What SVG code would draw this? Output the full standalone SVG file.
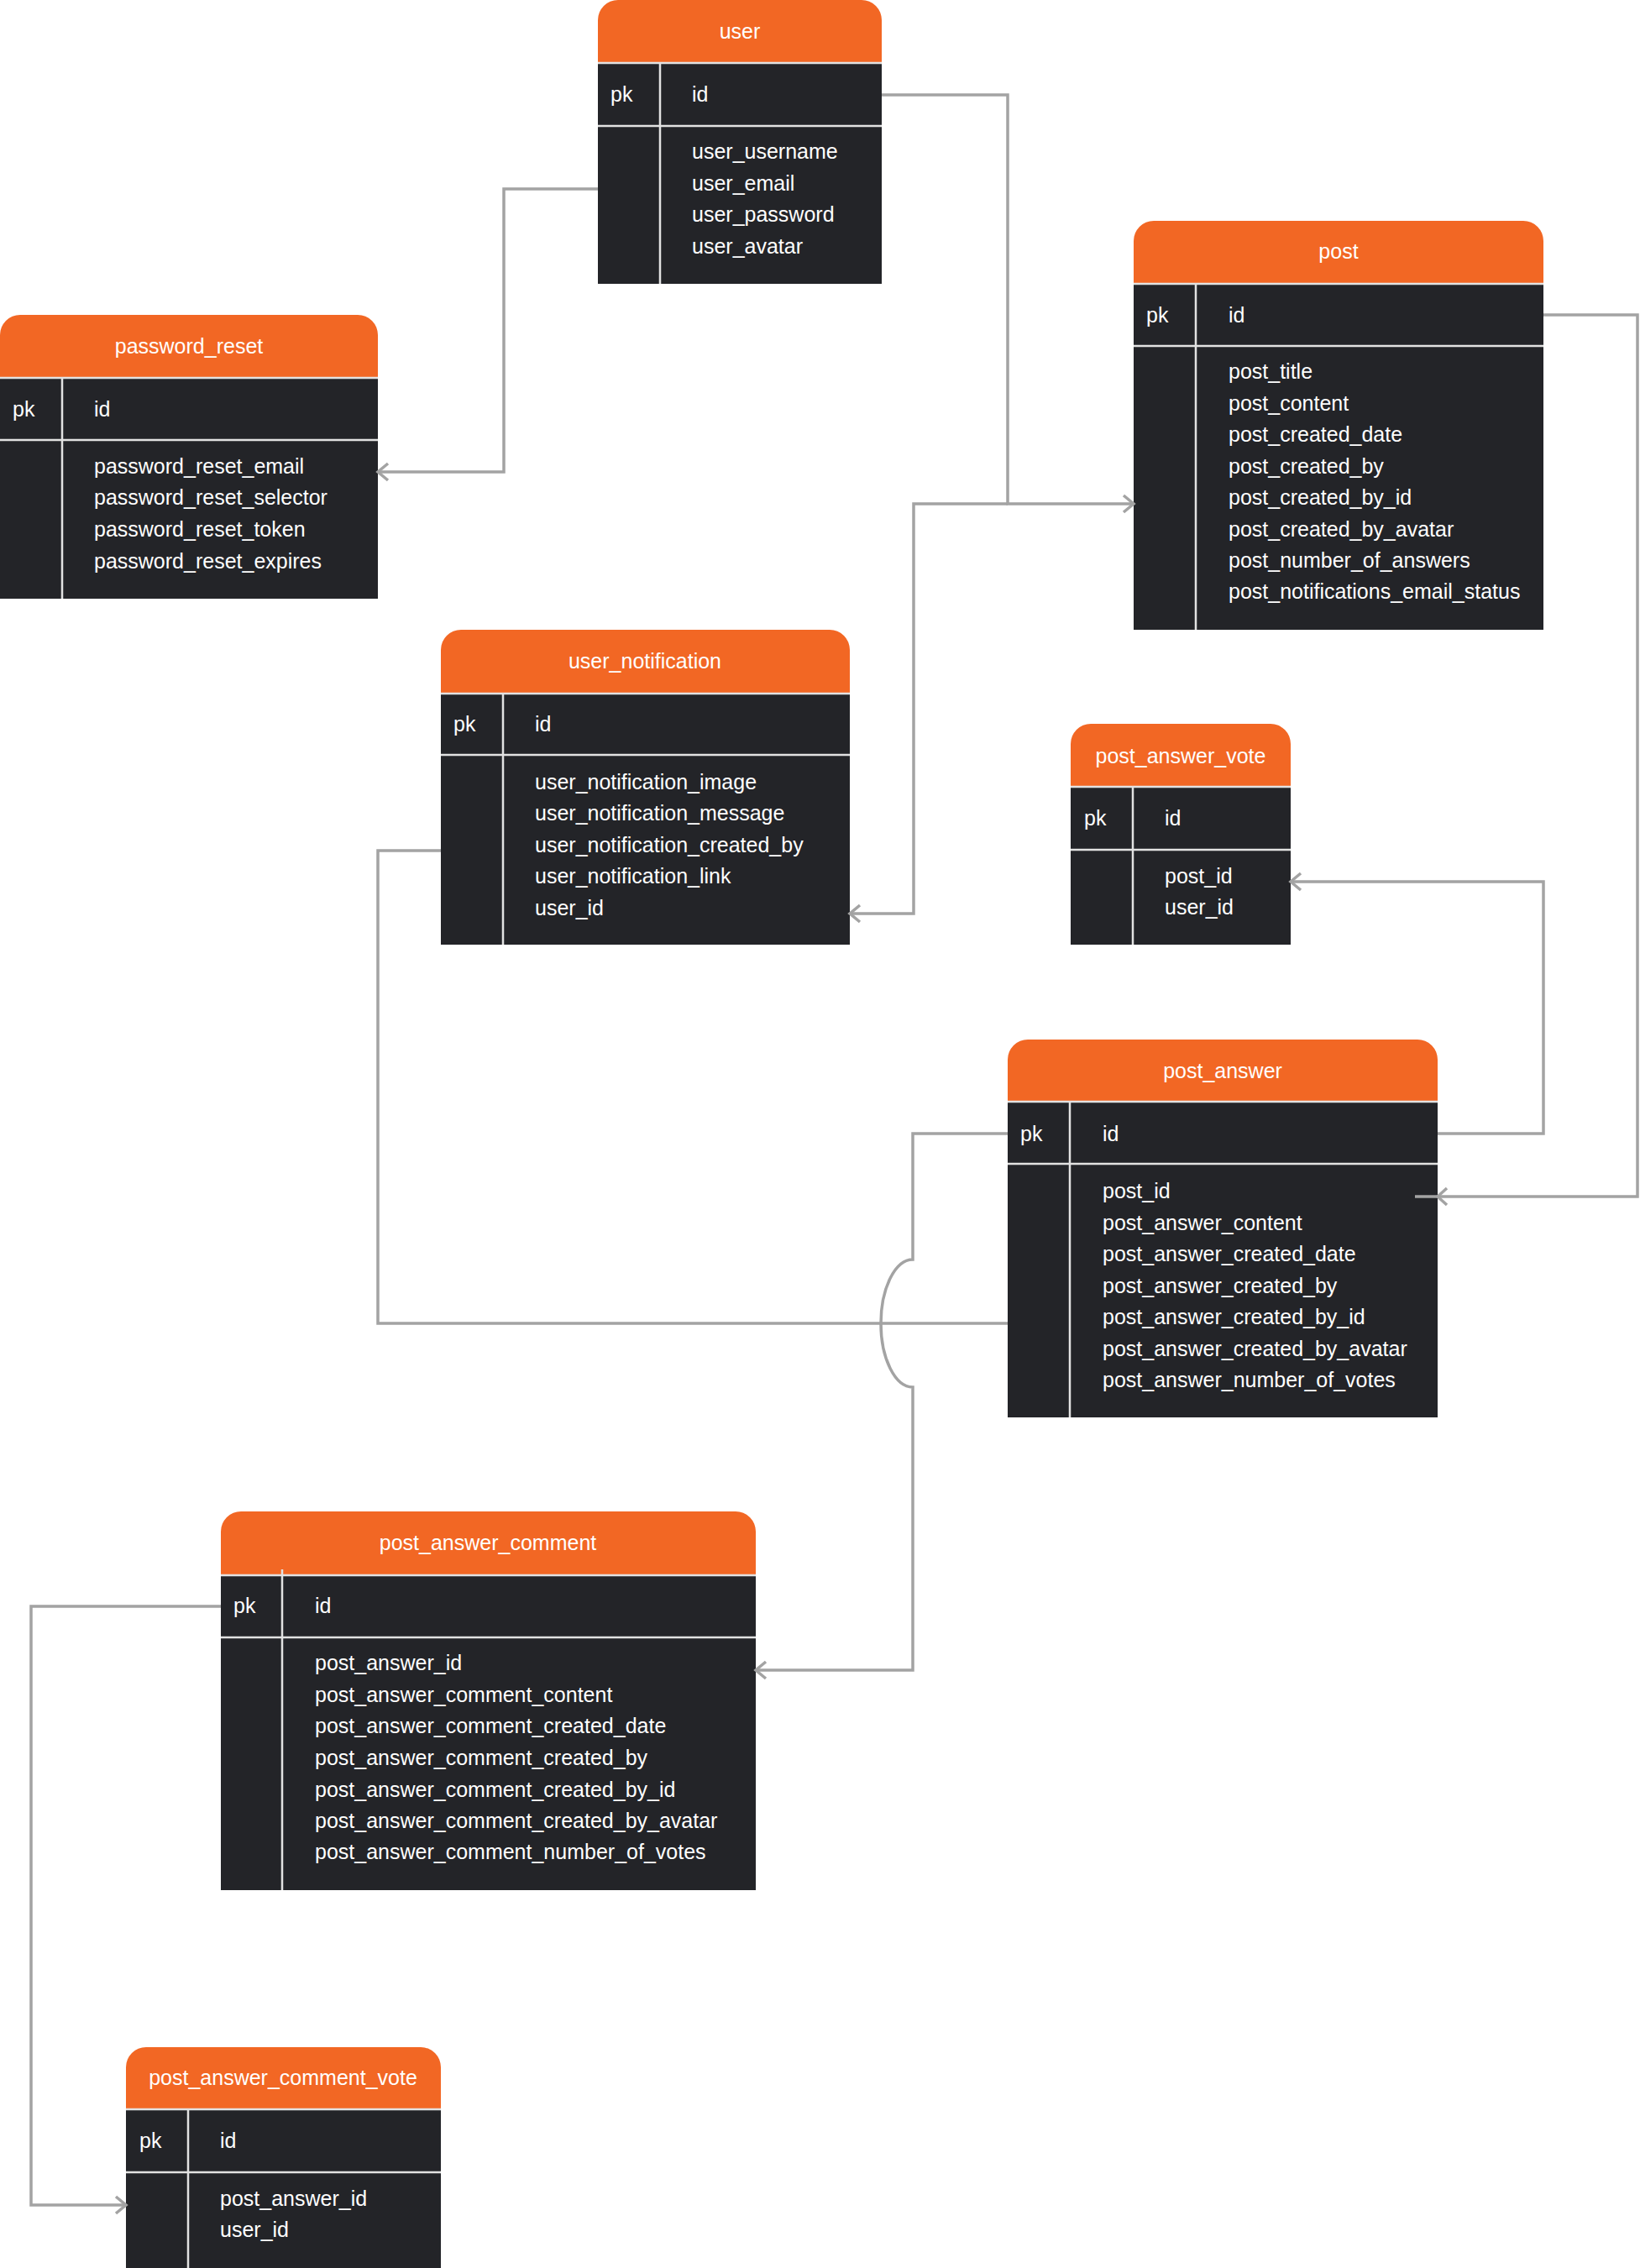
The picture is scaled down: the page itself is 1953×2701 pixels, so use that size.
<svg xmlns="http://www.w3.org/2000/svg" width="1953" height="2701" viewBox="0 0 1953 2701">
<style>
.body{fill:#232428}
.head{fill:#F26724}
.sep{stroke:#E2E2E2;stroke-width:2.5}
.div{stroke:#E2E2E2;stroke-width:2.5}
text{font-family:"Liberation Sans",Arial,Helvetica,sans-serif;font-size:25px;fill:#FFFFFF;dominant-baseline:central}
.title{text-anchor:middle}
.conn{fill:none;stroke:#A3A3A3;stroke-width:3.5;stroke-linejoin:miter}
</style>
<defs>
<marker id="arr" markerUnits="userSpaceOnUse" markerWidth="30" markerHeight="30" viewBox="-15 -15 30 30" refX="0" refY="0" orient="auto">
<path d="M-12,-10 L0,0 L-12,10" fill="none" stroke="#A3A3A3" stroke-width="3.5"/>
</marker>
</defs>
<rect width="1953" height="2701" fill="#FFFFFF"/>

<g id="user">
<rect class="body" x="712" y="74" width="338" height="264"/>
<path class="head" d="M712,75 V24 A24,24 0 0 1 736,0 H1026 A24,24 0 0 1 1050,24 V75 Z"/>
<line class="sep" x1="712" y1="75" x2="1050" y2="75"/>
<line class="sep" x1="712" y1="150" x2="1050" y2="150"/>
<line class="div" x1="786" y1="75" x2="786" y2="338"/>
<text class="title" x="881" y="37">user</text>
<text x="727" y="112">pk</text>
<text x="824" y="112">id</text>
<text x="824" y="180">user_username</text>
<text x="824" y="218">user_email</text>
<text x="824" y="255">user_password</text>
<text x="824" y="293">user_avatar</text>
</g>

<g id="password_reset">
<rect class="body" x="0" y="449" width="450" height="264"/>
<path class="head" d="M0,450 V399 A24,24 0 0 1 24,375 H426 A24,24 0 0 1 450,399 V450 Z"/>
<line class="sep" x1="0" y1="450" x2="450" y2="450"/>
<line class="sep" x1="0" y1="524" x2="450" y2="524"/>
<line class="div" x1="74" y1="450" x2="74" y2="713"/>
<text class="title" x="225" y="412">password_reset</text>
<text x="15" y="487">pk</text>
<text x="112" y="487">id</text>
<text x="112" y="555">password_reset_email</text>
<text x="112" y="592">password_reset_selector</text>
<text x="112" y="630">password_reset_token</text>
<text x="112" y="668">password_reset_expires</text>
</g>

<g id="post">
<rect class="body" x="1350" y="337" width="488" height="413"/>
<path class="head" d="M1350,338 V287 A24,24 0 0 1 1374,263 H1814 A24,24 0 0 1 1838,287 V338 Z"/>
<line class="sep" x1="1350" y1="338" x2="1838" y2="338"/>
<line class="sep" x1="1350" y1="412" x2="1838" y2="412"/>
<line class="div" x1="1424" y1="338" x2="1424" y2="750"/>
<text class="title" x="1594" y="299">post</text>
<text x="1365" y="375">pk</text>
<text x="1463" y="375">id</text>
<text x="1463" y="442">post_title</text>
<text x="1463" y="480">post_content</text>
<text x="1463" y="517">post_created_date</text>
<text x="1463" y="555">post_created_by</text>
<text x="1463" y="592">post_created_by_id</text>
<text x="1463" y="630">post_created_by_avatar</text>
<text x="1463" y="667">post_number_of_answers</text>
<text x="1463" y="704">post_notifications_email_status</text>
</g>

<g id="user_notification">
<rect class="body" x="525" y="825" width="487" height="300"/>
<path class="head" d="M525,826 V774 A24,24 0 0 1 549,750 H988 A24,24 0 0 1 1012,774 V826 Z"/>
<line class="sep" x1="525" y1="826" x2="1012" y2="826"/>
<line class="sep" x1="525" y1="899" x2="1012" y2="899"/>
<line class="div" x1="599" y1="826" x2="599" y2="1125"/>
<text class="title" x="768" y="787">user_notification</text>
<text x="540" y="862">pk</text>
<text x="637" y="862">id</text>
<text x="637" y="931">user_notification_image</text>
<text x="637" y="968">user_notification_message</text>
<text x="637" y="1006">user_notification_created_by</text>
<text x="637" y="1043">user_notification_link</text>
<text x="637" y="1081">user_id</text>
</g>

<g id="post_answer_vote">
<rect class="body" x="1275" y="936" width="262" height="189"/>
<path class="head" d="M1275,937 V886 A24,24 0 0 1 1299,862 H1513 A24,24 0 0 1 1537,886 V937 Z"/>
<line class="sep" x1="1275" y1="937" x2="1537" y2="937"/>
<line class="sep" x1="1275" y1="1012" x2="1537" y2="1012"/>
<line class="div" x1="1349" y1="937" x2="1349" y2="1125"/>
<text class="title" x="1406" y="900">post_answer_vote</text>
<text x="1291" y="974">pk</text>
<text x="1387" y="974">id</text>
<text x="1387" y="1043">post_id</text>
<text x="1387" y="1080">user_id</text>
</g>

<g id="post_answer">
<rect class="body" x="1200" y="1311" width="512" height="377"/>
<path class="head" d="M1200,1312 V1262 A24,24 0 0 1 1224,1238 H1688 A24,24 0 0 1 1712,1262 V1312 Z"/>
<line class="sep" x1="1200" y1="1312" x2="1712" y2="1312"/>
<line class="sep" x1="1200" y1="1386" x2="1712" y2="1386"/>
<line class="div" x1="1274" y1="1312" x2="1274" y2="1688"/>
<text class="title" x="1456" y="1275">post_answer</text>
<text x="1215" y="1350">pk</text>
<text x="1313" y="1350">id</text>
<text x="1313" y="1418">post_id</text>
<text x="1313" y="1456">post_answer_content</text>
<text x="1313" y="1493">post_answer_created_date</text>
<text x="1313" y="1531">post_answer_created_by</text>
<text x="1313" y="1568">post_answer_created_by_id</text>
<text x="1313" y="1606">post_answer_created_by_avatar</text>
<text x="1313" y="1643">post_answer_number_of_votes</text>
</g>

<g id="post_answer_comment">
<rect class="body" x="263" y="1875" width="637" height="376"/>
<path class="head" d="M263,1876 V1824 A24,24 0 0 1 287,1800 H876 A24,24 0 0 1 900,1824 V1876 Z"/>
<line class="sep" x1="263" y1="1876" x2="900" y2="1876"/>
<line class="sep" x1="263" y1="1950" x2="900" y2="1950"/>
<line class="div" x1="336" y1="1869" x2="336" y2="2251"/>
<text class="title" x="581" y="1837">post_answer_comment</text>
<text x="278" y="1912">pk</text>
<text x="375" y="1912">id</text>
<text x="375" y="1980">post_answer_id</text>
<text x="375" y="2018">post_answer_comment_content</text>
<text x="375" y="2055">post_answer_comment_created_date</text>
<text x="375" y="2093">post_answer_comment_created_by</text>
<text x="375" y="2131">post_answer_comment_created_by_id</text>
<text x="375" y="2168">post_answer_comment_created_by_avatar</text>
<text x="375" y="2205">post_answer_comment_number_of_votes</text>
</g>

<g id="post_answer_comment_vote">
<rect class="body" x="150" y="2511" width="375" height="190"/>
<path class="head" d="M150,2512 V2462 A24,24 0 0 1 174,2438 H501 A24,24 0 0 1 525,2462 V2512 Z"/>
<line class="sep" x1="150" y1="2512" x2="525" y2="2512"/>
<line class="sep" x1="150" y1="2587" x2="525" y2="2587"/>
<line class="div" x1="224" y1="2512" x2="224" y2="2701"/>
<text class="title" x="337" y="2474">post_answer_comment_vote</text>
<text x="166" y="2549">pk</text>
<text x="262" y="2549">id</text>
<text x="262" y="2618">post_answer_id</text>
<text x="262" y="2655">user_id</text>
</g>

<g id="connectors">
<path class="conn" d="M712,225 H600 V562 H450" marker-end="url(#arr)"/>
<path class="conn" d="M1050,113 H1200 V600 H1350" marker-end="url(#arr)"/>
<path class="conn" d="M1200,600 H1088 V1088 H1012" marker-end="url(#arr)"/>
<path class="conn" d="M1838,375 H1950 V1425 H1685"/>
<path class="conn" d="M1723,1415 L1712,1425 L1723,1435"/>
<path class="conn" d="M1712,1350 H1838 V1050 H1537" marker-end="url(#arr)"/>
<path class="conn" d="M1200,1350 H1087 V1500 A38,76 0 0 0 1087,1652 V1989 H900" marker-end="url(#arr)"/>
<path class="conn" d="M525,1013 H450 V1576 H1200"/>
<path class="conn" d="M263,1913 H37 V2626 H150" marker-end="url(#arr)"/>
</g>
</svg>
